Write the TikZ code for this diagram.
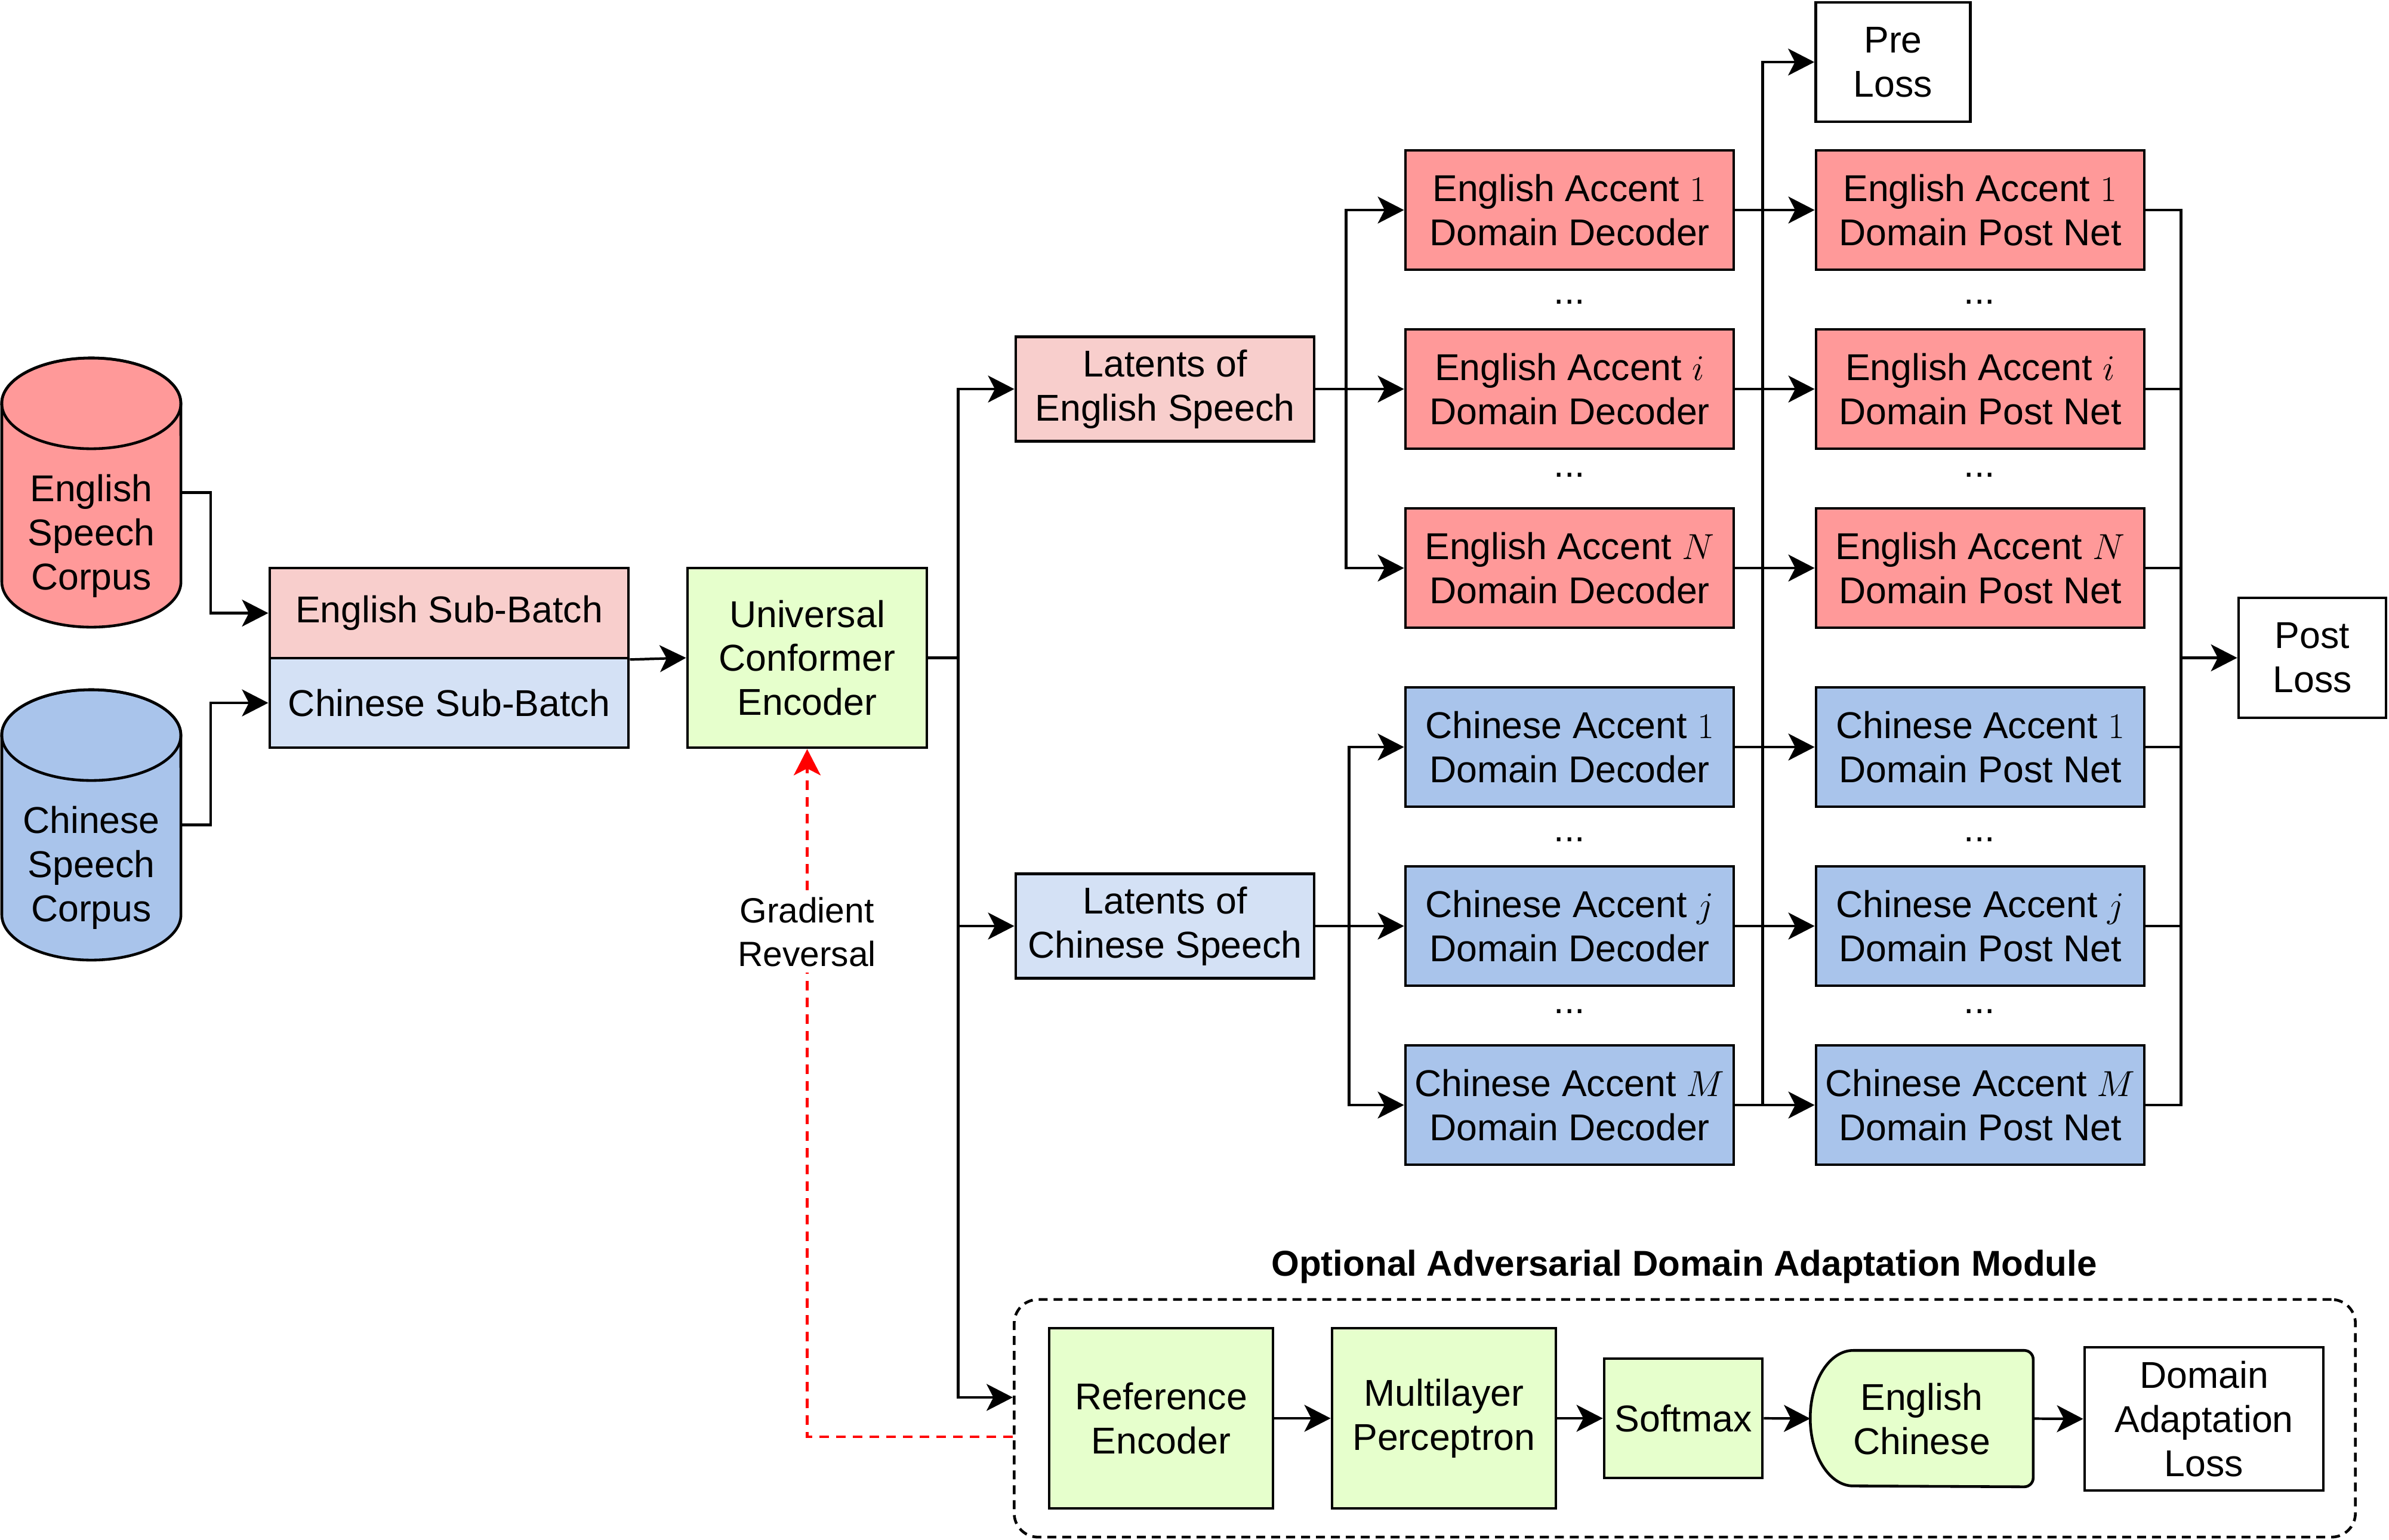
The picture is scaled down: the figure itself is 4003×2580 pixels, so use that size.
\documentclass[tikz,border=0pt]{standalone}
\usepackage{fontspec}
\setmainfont{Liberation Sans}
\usetikzlibrary{arrows.meta}
\definecolor{engred}{HTML}{FF9999}
\definecolor{subE}{HTML}{F8CECC}
\definecolor{chnblue}{HTML}{A9C4EB}
\definecolor{subC}{HTML}{D4E1F5}
\definecolor{grn}{HTML}{E6FFCC}
\newcommand\myfs{\fontsize{17.8}{21}\selectfont}
\begin{document}
\begin{tikzpicture}[x=0.01cm,y=-0.01cm,
  box/.style={draw, line width=1.3pt, align=center, inner sep=0pt, font=\myfs},
  dec/.style={box, minimum width=5.5cm, minimum height=2cm},
  txt/.style={font=\myfs, align=center, inner sep=0pt},
  ln/.style={line width=1.2pt},
  arr/.style={line width=1.2pt, -{Stealth[length=0.44cm,width=0.45cm,inset=0.115cm]}},
]
\fill[white] (0,0) rectangle (4003,2580);
\useasboundingbox (0,0) rectangle (4003,2580);

% cylinders
\node[minimum width=3cm, minimum height=4.51cm, inner sep=0pt] (engcyl) at (153,825.5) {};
\filldraw[line width=1.3pt, fill=engred] (3,676) -- (3,975) arc[start angle=180,end angle=360,x radius=1.5cm,y radius=0.76cm] -- (303,676) arc[start angle=0,end angle=180,x radius=1.5cm,y radius=0.76cm] -- cycle;
\draw[line width=1.3pt] (153,676) ellipse[x radius=1.5cm,y radius=0.76cm];
\node[txt] (engtxt) at (153,898) {English\\Speech\\Corpus};

\node[minimum width=3cm, minimum height=4.53cm, inner sep=0pt] (chncyl) at (153,1382.5) {};
\filldraw[line width=1.3pt, fill=chnblue] (3,1232) -- (3,1533) arc[start angle=180,end angle=360,x radius=1.5cm,y radius=0.76cm] -- (303,1232) arc[start angle=0,end angle=180,x radius=1.5cm,y radius=0.76cm] -- cycle;
\draw[line width=1.3pt] (153,1232) ellipse[x radius=1.5cm,y radius=0.76cm];
\node[txt] (chntxt) at (153,1454) {Chinese\\Speech\\Corpus};

% sub-batches and encoder
\node[box, fill=subE, minimum width=6.01cm, minimum height=1.51cm] (engsb) at (752.5,1027.5) {English Sub-Batch};
\node[box, fill=subC, minimum width=6.01cm, minimum height=1.50cm] (chnsb) at (752.5,1178) {Chinese Sub-Batch};
\node[box, fill=grn, minimum width=4.01cm, minimum height=3.01cm] (enc) at (1352.5,1102.5) {Universal\\Conformer\\Encoder};

% latents
\node[box, fill=subE, minimum width=5cm, minimum height=1.75cm] (latE) at (1952,652) {Latents of\\English Speech};
\node[box, fill=subC, minimum width=5cm, minimum height=1.75cm] (latC) at (1952,1552) {Latents of\\Chinese Speech};

% decoders
\node[dec, fill=engred] (decE1) at (2630,352) {English Accent $1$\\Domain Decoder};
\node[dec, fill=engred] (decEi) at (2630,652) {English Accent $i$\\Domain Decoder};
\node[dec, fill=engred] (decEN) at (2630,952) {English Accent $N$\\Domain Decoder};
\node[dec, fill=chnblue] (decC1) at (2630,1252) {Chinese Accent $1$\\Domain Decoder};
\node[dec, fill=chnblue] (decCj) at (2630,1552) {Chinese Accent $j$\\Domain Decoder};
\node[dec, fill=chnblue] (decCM) at (2630,1852) {Chinese Accent $M$\\Domain Decoder};

% post nets
\node[dec, fill=engred] (postE1) at (3318,352) {English Accent $1$\\Domain Post Net};
\node[dec, fill=engred] (postEi) at (3318,652) {English Accent $i$\\Domain Post Net};
\node[dec, fill=engred] (postEN) at (3318,952) {English Accent $N$\\Domain Post Net};
\node[dec, fill=chnblue] (postC1) at (3318,1252) {Chinese Accent $1$\\Domain Post Net};
\node[dec, fill=chnblue] (postCj) at (3318,1552) {Chinese Accent $j$\\Domain Post Net};
\node[dec, fill=chnblue] (postCM) at (3318,1852) {Chinese Accent $M$\\Domain Post Net};

% dots
\foreach \xx/\nm in {2630/a,3317/b}{
  \node[txt, anchor=base] (dots\nm1) at (\xx,509) {...};
  \node[txt, anchor=base] (dots\nm2) at (\xx,799) {...};
  \node[txt, anchor=base] (dots\nm3) at (\xx,1410) {...};
  \node[txt, anchor=base] (dots\nm4) at (\xx,1698) {...};
}

% losses
\node[box, fill=white, minimum width=2.59cm, minimum height=2cm] (preloss) at (3172,104) {Pre\\Loss};
\node[box, fill=white, minimum width=2.47cm, minimum height=2.01cm] (postloss) at (3874.5,1102.5) {Post\\Loss};

% module
\node[draw, line width=1.3pt, dash pattern=on 0.15cm off 0.1cm, rounded corners=0.4cm, minimum width=22.46cm, minimum height=3.98cm, inner sep=0pt] (module) at (2823,2377) {};
\node[font=\fontsize{17.1}{21}\selectfont\bfseries, inner sep=0pt] (title) at (2822,2123) {Optional Adversarial Domain Adaptation Module};
\node[box, fill=grn, minimum width=3.75cm, minimum height=3.02cm] (refenc) at (1945.5,2377) {Reference\\Encoder};
\node[box, fill=grn, minimum width=3.75cm, minimum height=3.02cm] (mlp) at (2419.5,2377) {Multilayer\\Perceptron};
\node[box, fill=grn, minimum width=2.65cm, minimum height=2cm] (softmax) at (2820.5,2377) {Softmax};
\node[minimum width=3.72cm, minimum height=2.27cm, inner sep=0pt] (engchn) at (3220,2377.5) {};
\filldraw[line width=1.3pt, fill=grn] ([xshift=0.72cm]engchn.north west) arc[start angle=90,end angle=270,x radius=0.72cm,y radius=1.135cm]
  -- ([xshift=-0.15cm]engchn.south east) arc[start angle=270,end angle=360,radius=0.15cm]
  -- ([yshift=-0.15cm]engchn.north east) arc[start angle=0,end angle=90,radius=0.15cm] -- cycle;
\node[txt] (engchntxt) at (3220,2378) {English\\Chinese};
\node[box, fill=white, minimum width=4cm, minimum height=2.4cm] (dal) at (3693,2378) {Domain\\Adaptation\\Loss};

% connectors: inputs
\draw[arr] (engcyl.east) -- ++(49,0) |- (engsb.west);
\draw[arr] (chncyl.east) -- ++(49,0) |- (chnsb.west);
\draw[arr] (engsb.south east) -- (enc.west);

% encoder split
\draw[ln] (enc.east) -- ++(50,0) coordinate (split);
\draw[arr] (split) |- (latE.west);
\draw[arr] (split) |- (latC.west);
\draw[arr] (split) |- ([yshift=0.35cm]module.west);

% gradient reversal
\draw[red, line width=1.2pt, dash pattern=on 0.16cm off 0.12cm, -{Stealth[length=0.44cm,width=0.45cm,inset=0.115cm,fill=red]}] ([yshift=-0.31cm]module.west) -| (enc.south);
\node[font=\fontsize{16.7}{20.5}\selectfont, align=center, fill=white, inner sep=3pt] (grl) at (1352,1562) {Gradient\\Reversal};

% latents to decoders
\draw[arr] (latE.east) -- (decEi.west);
\draw[arr] ([xshift=0.51cm]latE.east) |- (decE1.west);
\draw[arr] ([xshift=0.51cm]latE.east) |- (decEN.west);
\draw[arr] (latC.east) -- (decCj.west);
\draw[arr] ([xshift=0.56cm]latC.east) |- (decC1.west);
\draw[arr] ([xshift=0.56cm]latC.east) |- (decCM.west);

% decoders to post nets
\foreach \r in {E1,Ei,EN,C1,Cj,CM}{
  \draw[arr] (dec\r.east) -- (post\r.west);
}
\draw[arr] ([xshift=0.46cm]decCM.east) |- (preloss.west);

% post nets to post loss
\draw[ln] (postE1.east) -- ++(59,0) coordinate (pv) |- (postCM.east);
\foreach \r in {Ei,EN,C1,Cj}{
  \draw[ln] (post\r.east) -- (post\r.east -| pv);
}
\draw[arr] (pv |- postloss.west) -- (postloss.west);

% module chain
\draw[arr] (refenc.east) -- (mlp.west);
\draw[arr] (mlp.east) -- (softmax.west);
\draw[arr] (softmax.east) -- (engchn.west);
\draw[arr] (engchn.east) -- (dal.west);
\end{tikzpicture}
\end{document}
